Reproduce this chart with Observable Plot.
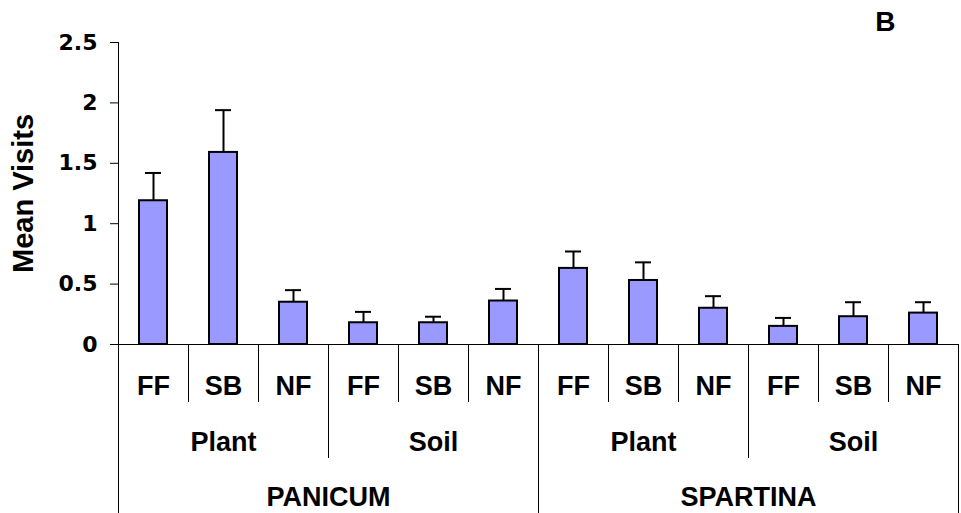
<!DOCTYPE html>
<html>
<head>
<meta charset="utf-8">
<script src="https://cdn.jsdelivr.net/npm/d3@7"></script>
<script src="https://cdn.jsdelivr.net/npm/@observablehq/plot@0.6"></script>
<style>
  html, body { margin: 0; padding: 0; background: #fff; }
  #chart svg { display: block; }
</style>
</head>
<body>
<div id="chart"></div>
<script>
// Hierarchical categories: species > substrate > treatment
const speciesNames = ["PANICUM", "SPARTINA"];
const substrates = ["Plant", "Soil"];
const treatments = ["FF", "SB", "NF"];

// Mean visits and standard errors, in category order
const meanVisits = [1.19, 1.59, 0.35, 0.18, 0.18, 0.36, 0.63, 0.53, 0.30, 0.15, 0.23, 0.26];
const stdErrors  = [0.23, 0.35, 0.10, 0.09, 0.05, 0.10, 0.14, 0.15, 0.10, 0.07, 0.12, 0.09];

const yTicks = [0, 0.5, 1, 1.5, 2, 2.5];
const panelLabel = "B";
const yLabel = "Mean Visits";

// Flatten the hierarchy into one row per bar
const rows = [];
for (const sp of speciesNames) {
  for (const sub of substrates) {
    for (const tr of treatments) {
      const i = rows.length;
      rows.push({i, key: `${sp}|${sub}|${tr}`, species: sp, substrate: sub, treatment: tr,
                 mean: meanVisits[i], se: stdErrors[i]});
    }
  }
}

const W = 961, H = 513;
const mL = 118, mR = 3, mT = 42, mB = 169;
const step = (W - mL - mR) / rows.length;
const perSpecies = substrates.length * treatments.length;
const perGroup = treatments.length;

const font = "'Liberation Sans', Arial, Helvetica, sans-serif";
const bold = {fontWeight: "bold", fontFamily: font, fill: "#000"};

// depth of the separator at the left edge of each bar slot
const depth = (d) => d.i % perSpecies === 0 ? 3 : d.i % perGroup === 0 ? 2 : 1;
const sepStyle = {x: "key", dx: -step / 2, y1: 0, y2: 0, stroke: "#000", strokeWidth: 1};
const last = rows[rows.length - 1];

const chart = Plot.plot({
  width: W,
  height: H,
  marginLeft: mL,
  marginRight: mR,
  marginTop: mT,
  marginBottom: mB,
  style: {fontFamily: font, background: "#fff", color: "#000"},
  x: {type: "band", domain: rows.map(d => d.key), paddingInner: 0.6, paddingOuter: 0.3, axis: null},
  y: {domain: [0, 2.5], nice: false},
  marks: [
    // y axis with ticks and labels
    Plot.axisY({ticks: yTicks, tickFormat: d => String(d), tickSize: 8, tickPadding: 13,
                fontSize: 22, fontWeight: "bold", fontFamily: "'DejaVu Sans', sans-serif",
                label: null, stroke: "#000"}),
    // vertical axis line, continuing down as the outer category border
    Plot.ruleX([rows[0]], {x: "key", dx: -step / 2, insetBottom: -mB, stroke: "#000", strokeWidth: 1}),
    // baseline
    Plot.ruleY([0], {stroke: "#000", strokeWidth: 1}),
    // bars
    Plot.barY(rows, {x: "key", y: "mean", fill: "#9999FF", stroke: "#000", strokeWidth: 2}),
    // upper error bars
    Plot.ruleX(rows, {x: "key", y1: "mean", y2: d => d.mean + d.se, stroke: "#000", strokeWidth: 2}),
    Plot.tickY(rows, {x: "key", y: d => d.mean + d.se, stroke: "#000", strokeWidth: 2, insetLeft: 6, insetRight: 6}),
    // category separators below the axis
    Plot.ruleX(rows.filter(d => depth(d) === 1), {...sepStyle, insetBottom: -58}),
    Plot.ruleX(rows.filter(d => depth(d) === 2), {...sepStyle, insetBottom: -114}),
    Plot.ruleX(rows.filter(d => depth(d) === 3), {...sepStyle, insetBottom: -mB}),
    Plot.ruleX([last], {...sepStyle, dx: step / 2, insetBottom: -mB}),
    // category labels
    Plot.text(rows, {x: "key", text: "treatment", frameAnchor: "bottom", lineAnchor: "middle",
                     dy: 42, fontSize: 27, ...bold}),
    Plot.text(rows.filter(d => d.i % perGroup === 1), {x: "key", text: "substrate", frameAnchor: "bottom",
                     lineAnchor: "middle", dy: 98, fontSize: 27, ...bold}),
    Plot.text(rows.filter(d => d.i % perSpecies === perSpecies / 2 - 1), {x: "key", text: "species",
                     frameAnchor: "bottom", lineAnchor: "middle", dx: step / 2, dy: 153, fontSize: 27, ...bold}),
    // y axis title
    Plot.text([yLabel], {frameAnchor: "left", rotate: -90, textAnchor: "middle", lineAnchor: "middle",
                         dx: -95, fontSize: 29, ...bold}),
    // panel letter
    Plot.text([panelLabel], {frameAnchor: "top-right", textAnchor: "end", lineAnchor: "top",
                             dx: -63, dy: -31, fontSize: 28, ...bold})
  ]
});

document.getElementById("chart").append(chart);
</script>
</body>
</html>
